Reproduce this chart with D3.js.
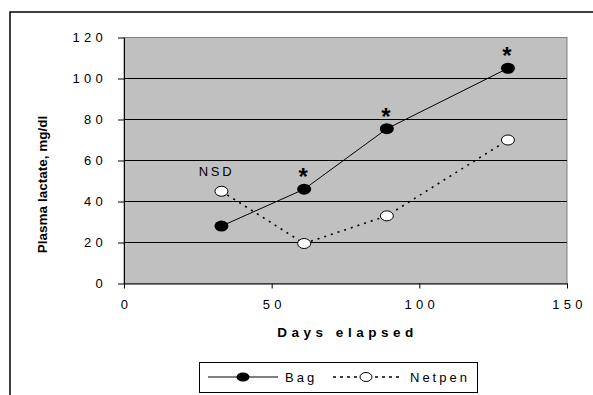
<!DOCTYPE html>
<html><head><meta charset="utf-8">
<script src="https://cdn.jsdelivr.net/npm/d3@7"></script>
<style>body{margin:0;background:#fff;} text{font-family:"Liberation Sans",Arial,sans-serif;}</style>
</head><body><svg id="c" width="593" height="395"></svg>
<script>
const days = [33, 61, 89, 130];
const bagValues = [28, 46, 75.5, 105];
const netpenValues = [45, 19.5, 33, 70];
const seriesNames = ["Bag", "Netpen"];
const xTicks = [0, 50, 100, 150];
const yTicks = [0, 20, 40, 60, 80, 100, 120];
const significant = [false, true, true, true];

const svg = d3.select("#c");
const L = 124, R = 567, T = 37.5, B = 283.5;
const x = d3.scaleLinear().domain([0,150]).range([L,R]);
const y = d3.scaleLinear().domain([0,120]).range([B,T]);

// outer frame
svg.append("rect").attr("x",10).attr("y",12).attr("width",600).attr("height",400)
  .attr("fill","none").attr("stroke","#000").attr("stroke-width",1.5);

// plot area
svg.append("rect").attr("x",L).attr("y",T).attr("width",R-L).attr("height",B-T)
  .attr("fill","#c0c0c0").attr("stroke","#808080").attr("stroke-width",1);

// gridlines
svg.append("g").selectAll("line").data(yTicks.filter(d=>d>0 && d<120)).join("line")
  .attr("x1",L).attr("x2",R).attr("y1",d=>y(d)).attr("y2",d=>y(d))
  .attr("stroke","#000").attr("stroke-width",1);

// y axis
const ya = svg.append("g").attr("transform",`translate(${L},0)`)
  .call(d3.axisLeft(y).tickValues(yTicks).tickSize(6).tickSizeOuter(0).tickPadding(11));
ya.select(".domain").attr("stroke","#000");
ya.selectAll("line").attr("stroke","#000");
ya.selectAll("text").attr("font-size",13).attr("letter-spacing","4.3px").attr("fill","#000")
  .attr("font-family","Liberation Sans, Arial, sans-serif");

// x axis
const xa = svg.append("g").attr("transform",`translate(0,${B})`)
  .call(d3.axisBottom(x).tickValues(xTicks).tickSize(5).tickSizeOuter(0).tickPadding(11));
xa.select(".domain").attr("stroke","#000");
xa.selectAll("line").attr("stroke","#000");
xa.selectAll("text").attr("font-size",13).attr("letter-spacing","4.3px").attr("fill","#000")
  .attr("dx","2px").attr("font-family","Liberation Sans, Arial, sans-serif");

// axis titles
svg.append("text").attr("transform",`translate(47,${(T+B)/2+24}) rotate(-90)`)
  .attr("text-anchor","middle").attr("font-size",13.5).attr("font-weight","bold")
  .text("Plasma lactate, mg/dl");
svg.append("text").attr("x",(L+R)/2+2).attr("y",337).attr("text-anchor","middle")
  .attr("font-size",13.5).attr("font-weight","bold").attr("letter-spacing","4.5px")
  .text("Days elapsed");

const line = d3.line().x(d=>x(d[0])).y(d=>y(d[1]));
const bag = days.map((d,i)=>[d,bagValues[i]]);
const net = days.map((d,i)=>[d,netpenValues[i]]);

svg.append("path").attr("d",line(net)).attr("fill","none").attr("stroke","#000")
  .attr("stroke-width",1.6).attr("stroke-dasharray","2,5");
svg.append("path").attr("d",line(bag)).attr("fill","none").attr("stroke","#000").attr("stroke-width",1);

svg.append("g").selectAll("ellipse").data(net).join("ellipse")
  .attr("cx",d=>x(d[0])).attr("cy",d=>y(d[1])).attr("rx",6.5).attr("ry",5)
  .attr("fill","#fff").attr("stroke","#000").attr("stroke-width",1);
svg.append("g").selectAll("ellipse").data(bag).join("ellipse")
  .attr("cx",d=>x(d[0])).attr("cy",d=>y(d[1])).attr("rx",7).attr("ry",5.5)
  .attr("fill","#000");

// asterisks
svg.append("g").selectAll("text").data(bag.filter((d,i)=>significant[i])).join("text")
  .attr("x",d=>x(d[0])-1).attr("y",d=>y(d[1])-4).attr("text-anchor","middle")
  .attr("font-size",24).attr("font-weight","bold").text("*");
// NSD
svg.append("text").attr("x",x(days[0])-5).attr("y",y(netpenValues[0])-15).attr("text-anchor","middle")
  .attr("font-size",13).attr("letter-spacing","2.7px").text("NSD");

// legend
const lg = svg.append("g");
lg.append("rect").attr("x",199.5).attr("y",362.5).attr("width",278).attr("height",30)
  .attr("fill","#fff").attr("stroke","#000").attr("stroke-width",1);
lg.append("line").attr("x1",208).attr("x2",278).attr("y1",377).attr("y2",377).attr("stroke","#000");
lg.append("ellipse").attr("cx",243).attr("cy",377).attr("rx",6.5).attr("ry",4.5).attr("fill","#000");
lg.append("text").attr("x",285).attr("y",382).attr("font-size",13).attr("letter-spacing","3px").text(seriesNames[0]);
lg.append("line").attr("x1",333).attr("x2",400).attr("y1",377).attr("y2",377).attr("stroke","#000")
  .attr("stroke-width",1.5).attr("stroke-dasharray","3,4");
lg.append("ellipse").attr("cx",366).attr("cy",377).attr("rx",6).attr("ry",4.5).attr("fill","#fff").attr("stroke","#000");
lg.append("text").attr("x",410).attr("y",382).attr("font-size",13).attr("letter-spacing","3px").text(seriesNames[1]);
</script></body></html>
